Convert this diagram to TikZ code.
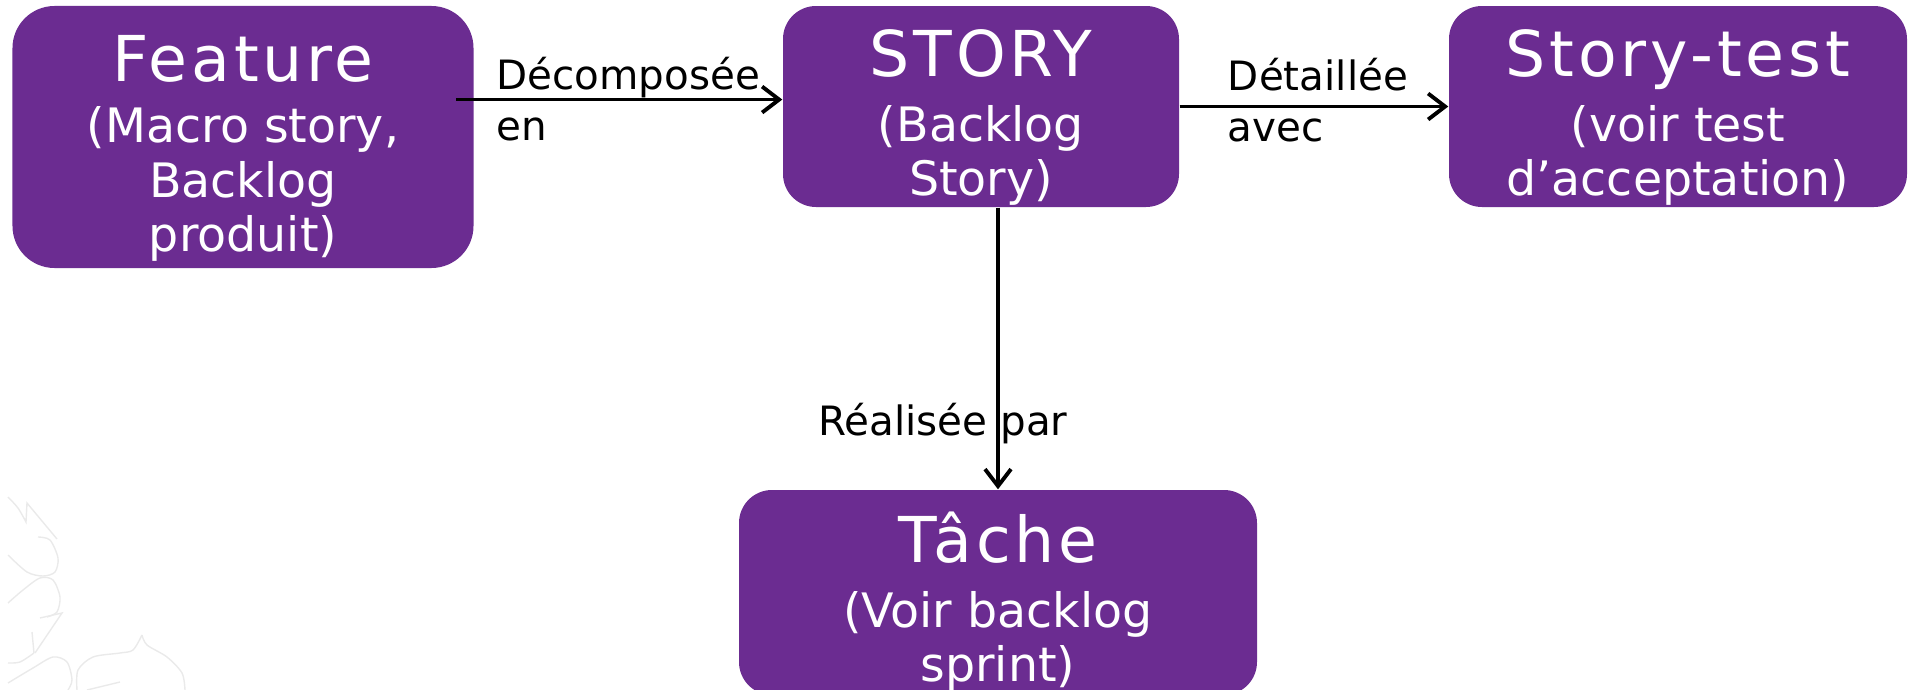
\documentclass[tikz,border=0pt]{standalone}
\usepackage{fontspec}
\setmainfont{DejaVu Sans}
\newfontfamily\titlefont[LetterSpace=6]{DejaVu Sans}
\usepackage{xcolor}
\usepackage{tikz}
\usetikzlibrary{arrows.meta}

\definecolor{boxpurple}{RGB}{107,44,145}
\definecolor{ornament}{RGB}{234,234,234}

\tikzset{
	box/.style={fill=boxpurple, text=white, rounded corners=0.33cm, inner sep=0pt,
		align=center, font=\fontsize{13.5}{15.5}\selectfont},
	link/.style={-{Straight Barb[length=1.7mm,width=2.6mm]}, line width=1.1pt},
	linklabel/.style={font=\fontsize{11.5}{14.5}\selectfont, align=left, inner sep=0pt},
	curl/.style={draw=ornament, line width=0.4pt}
}
% title line of a box, with a strut that pushes the text block down a bit
\newcommand{\boxtitle}[1]{{\titlefont\fontsize{18}{15.5}\selectfont\rule{0pt}{19.5pt}#1}}

\begin{document}
\begin{tikzpicture}

	\useasboundingbox (0,0) rectangle (19.10cm,-6.90cm);

	%Ornament, bottom left corner
	\draw[curl] plot[smooth] coordinates {(0.08,-4.97) (0.18,-5.08) (0.26,-5.22)}
		-- (0.27,-5.03) -- (0.57,-5.39);
	\draw[curl] plot[smooth] coordinates {(0.38,-5.37) (0.50,-5.40) (0.58,-5.58) (0.55,-5.72) (0.43,-5.76) (0.27,-5.72) (0.08,-5.55)};
	\draw[curl] plot[smooth] coordinates {(0.08,-6.03) (0.23,-5.90) (0.40,-5.78) (0.53,-5.80) (0.60,-5.97) (0.57,-6.12) (0.47,-6.17)};
	\draw[curl] (0.40,-6.18) -- (0.62,-6.13) -- (0.35,-6.53);
	\draw[curl] (0.32,-6.32) -- (0.34,-6.53) plot[smooth] coordinates {(0.34,-6.53) (0.20,-6.62) (0.08,-6.63)};
	\draw[curl] plot[smooth] coordinates {(0.08,-6.83) (0.33,-6.68) (0.53,-6.57) (0.67,-6.62) (0.72,-6.80) (0.68,-6.90)};
	\draw[curl] plot[smooth] coordinates {(0.77,-6.90) (0.78,-6.70) (0.93,-6.57) (1.20,-6.53) (1.33,-6.50) (1.42,-6.35)};
	\draw[curl] plot[smooth] coordinates {(1.42,-6.35) (1.47,-6.45) (1.67,-6.57) (1.82,-6.73) (1.85,-6.90)};
	\draw[curl] (0.87,-6.90) -- (1.20,-6.82);

	%Vertices
	\node[box, minimum width=4.61cm, minimum height=2.62cm, rounded corners=0.42cm] (Feat) at (2.43cm,-1.37cm)
		{\boxtitle{Feature}\\[2pt](Macro story,\\Backlog\\produit)};

	\node[box, minimum width=3.96cm, minimum height=2.01cm] (Story) at (9.81cm,-1.065cm)
		{\boxtitle{STORY}\\[3pt](Backlog\\Story)};

	\node[box, minimum width=4.58cm, minimum height=2.01cm] (Test) at (16.78cm,-1.065cm)
		{\boxtitle{Story-test}\\[3pt](voir test\\d’acceptation)};

	\node[box, minimum width=5.18cm, minimum height=2.05cm] (Task) at (9.98cm,-5.925cm)
		{\boxtitle{Tâche}\\[3pt](Voir backlog\\sprint)};

	%Links
	\draw[link, shorten <=-0.18cm] (Feat.east |- Story.178) -- node[linklabel, midway] {Décomposée\\en} (Story.178);

	\draw[link] (Story.east) -- node[linklabel, midway, yshift=0.06cm, xshift=0.04cm] {Détaillée\\avec} (Test.west);

	\draw[link] (Story.south -| Task.north) -- node[linklabel, pos=0.81, anchor=base, xshift=-0.55cm] {Réalisée par} (Task.north);

\end{tikzpicture}
\end{document}
